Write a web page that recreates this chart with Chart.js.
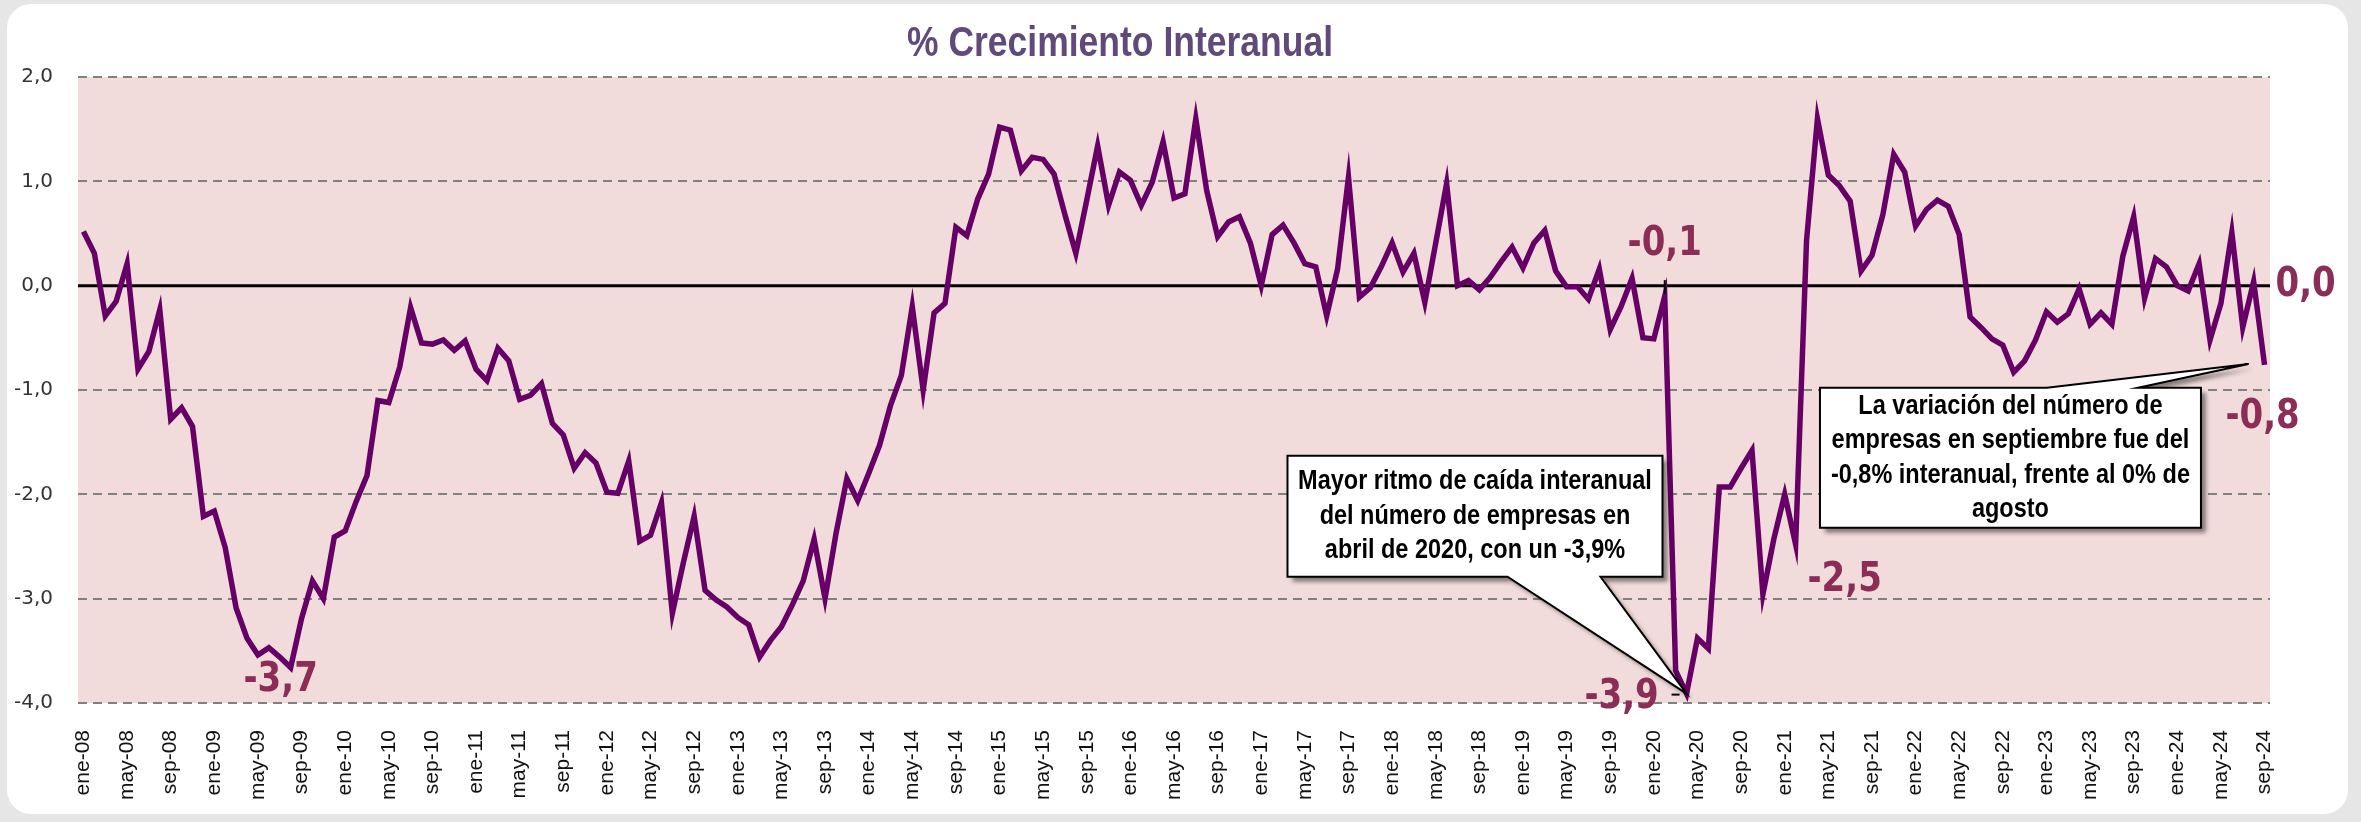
<!DOCTYPE html>
<html lang="es">
<head>
<meta charset="utf-8">
<title>% Crecimiento Interanual</title>
<script src="https://cdn.jsdelivr.net/npm/chart.js@4.4.1/dist/chart.umd.min.js"></script>
<style>
  html, body { margin: 0; padding: 0; background: #e6e6e6; }
  #panel { position: absolute; left: 7px; top: 4px; width: 2341px; height: 810px; background: #fff; border-radius: 24px; }
  #panel canvas { display: block; }
</style>
</head>
<body>
<div id="panel"><canvas id="crecimientoChart"></canvas></div>
<script>
const TITULO = '% Crecimiento Interanual';

// meses y años del eje X (ene-08 ... sep-24)
const MESES = ['ene', 'feb', 'mar', 'abr', 'may', 'jun', 'jul', 'ago', 'sep', 'oct', 'nov', 'dic'];
const ANIOS = ['08', '09', '10', '11', '12', '13', '14', '15', '16', '17', '18', '19', '20', '21', '22', '23', '24'];
const MESES_ULTIMO_ANIO = 9;

// % crecimiento interanual, una fila por año
const valores = [
    0.52, 0.31, -0.29, -0.15, 0.21, -0.80, -0.63, -0.23, -1.28, -1.17, -1.35, -2.21,
    -2.16, -2.51, -3.09, -3.38, -3.54, -3.47, -3.56, -3.66, -3.19, -2.83, -3.00, -2.41,
    -2.35, -2.07, -1.82, -1.10, -1.12, -0.78, -0.21, -0.55, -0.56, -0.52, -0.62, -0.53,
    -0.80, -0.91, -0.60, -0.72, -1.09, -1.05, -0.94, -1.32, -1.43, -1.75, -1.60, -1.70,
    -1.98, -1.99, -1.68, -2.45, -2.39, -2.08, -3.14, -2.66, -2.21, -2.92, -3.01, -3.08,
    -3.18, -3.25, -3.56, -3.40, -3.27, -3.06, -2.83, -2.43, -3.00, -2.38, -1.85, -2.06,
    -1.80, -1.53, -1.15, -0.86, -0.20, -1.00, -0.26, -0.17, 0.56, 0.48, 0.83, 1.07,
    1.52, 1.49, 1.10, 1.23, 1.21, 1.07, 0.68, 0.31, 0.82, 1.34, 0.77, 1.09,
    1.01, 0.77, 0.99, 1.38, 0.84, 0.88, 1.60, 0.91, 0.47, 0.61, 0.66, 0.41,
    0.00, 0.49, 0.58, 0.41, 0.21, 0.18, -0.29, 0.16, 1.04, -0.11, -0.02, 0.18,
    0.41, 0.13, 0.31, -0.16, 0.41, 0.98, 0.00, 0.05, -0.04, 0.08, 0.23, 0.37,
    0.17, 0.41, 0.53, 0.14, -0.01, -0.01, -0.13, 0.16, -0.42, -0.20, 0.07, -0.50,
    -0.51, -0.10, -3.69, -3.91, -3.38, -3.48, -1.93, -1.93, -1.75, -1.58, -2.96, -2.43,
    -2.00, -2.48, 0.43, 1.60, 1.06, 0.96, 0.81, 0.14, 0.29, 0.68, 1.26, 1.09,
    0.57, 0.73, 0.82, 0.76, 0.49, -0.30, -0.40, -0.51, -0.57, -0.83, -0.72, -0.52,
    -0.25, -0.35, -0.27, -0.03, -0.37, -0.26, -0.37, 0.28, 0.66, -0.12, 0.26, 0.18,
    0.00, -0.05, 0.21, -0.52, -0.17, 0.51, -0.40, 0.04, -0.76
];

// meses con etiqueta de valor
const mesesEtiquetados = [19, 145, 147, 157, 199, 200];

const textoCaida = ['Mayor ritmo de caída interanual', 'del número de empresas en', 'abril de 2020, con un -3,9%'];
const textoSeptiembre = ['La variación del número de', 'empresas en septiembre fue del', '-0,8% interanual, frente al 0% de', 'agosto'];

const etiquetasMes = [];
ANIOS.forEach((a, k) => {
    const n = (k === ANIOS.length - 1) ? MESES_ULTIMO_ANIO : 12;
    for (let m = 0; m < n; m++) etiquetasMes.push(`${MESES[m]}-${a}`);
});

const fmt = v => v.toFixed(1).replace('.', ',');

// fondo rosa del área y línea del cero
const fondoYCero = {
    id: 'fondoYCero',
    beforeDraw(chart) {
        const { ctx, chartArea: a } = chart;
        ctx.save();
        ctx.fillStyle = '#f2dcdb';
        ctx.fillRect(a.left, a.top, a.width, a.height);
        ctx.restore();
    },
    beforeDatasetsDraw(chart) {
        const { ctx, chartArea: a, scales: { y } } = chart;
        const y0 = y.getPixelForValue(0);
        ctx.save();
        ctx.strokeStyle = '#000';
        ctx.lineWidth = 3;
        ctx.beginPath();
        ctx.moveTo(a.left, y0);
        ctx.lineTo(a.right, y0);
        ctx.stroke();
        ctx.restore();
    }
};

// texto con estrechamiento horizontal (las fuentes del original salen comprimidas)
function texto(ctx, t, x, y, font, color, sx) {
    ctx.save();
    ctx.translate(x, y);
    ctx.scale(sx, 1);
    ctx.font = font;
    ctx.fillStyle = color;
    ctx.textAlign = 'center';
    ctx.textBaseline = 'middle';
    ctx.fillText(t, 0, 0);
    ctx.restore();
}

function linea(ctx, x1, y1, x2, y2) {
    ctx.save();
    ctx.strokeStyle = '#000';
    ctx.lineWidth = 2;
    ctx.beginPath();
    ctx.moveTo(x1, y1);
    ctx.lineTo(x2, y2);
    ctx.stroke();
    ctx.restore();
}

// caja con flecha (globo de Excel)
function globo(ctx, cx, cy, w, h, base, punta, lado, lineas) {
    const x = cx - w / 2, y = cy - h / 2;
    ctx.save();
    ctx.beginPath();
    ctx.moveTo(x, y);
    if (lado === 'top') {
        ctx.lineTo(x + base[0], y);
        ctx.lineTo(punta.x, punta.y);
        ctx.lineTo(x + base[1], y);
    }
    ctx.lineTo(x + w, y);
    ctx.lineTo(x + w, y + h);
    if (lado === 'bottom') {
        ctx.lineTo(x + base[1], y + h);
        ctx.lineTo(punta.x, punta.y);
        ctx.lineTo(x + base[0], y + h);
    }
    ctx.lineTo(x, y + h);
    ctx.closePath();
    ctx.shadowColor = 'rgba(0,0,0,0.45)';
    ctx.shadowBlur = 4;
    ctx.shadowOffsetX = 5;
    ctx.shadowOffsetY = 5;
    ctx.fillStyle = '#fff';
    ctx.fill();
    ctx.shadowColor = 'transparent';
    ctx.strokeStyle = '#000';
    ctx.lineWidth = 2;
    ctx.stroke();
    ctx.restore();

    const lh = 34.5;
    const y1 = cy - (lineas.length - 1) * lh / 2;
    lineas.forEach((l, k) => texto(ctx, l, cx, y1 + k * lh, 'bold 27px "Liberation Sans", Arial, sans-serif', '#000', 0.87));
}

const anotaciones = {
    id: 'anotaciones',
    afterDatasetsDraw(chart) {
        const { ctx, scales: { x, y } } = chart;
        const px = i => x.getPixelForValue(i);
        const py = v => y.getPixelForValue(v);

        // título
        texto(ctx, TITULO, 1113, 40, 'bold 42px "Liberation Sans", Arial, sans-serif', '#604A7B', 0.845);

        // guías cortas de las etiquetas (-0,1 y -3,9)
        linea(ctx, px(145), py(valores[145]) - 2, px(145), py(valores[145]) - 16);
        linea(ctx, px(147) - 15, py(valores[147]) + 1, px(147) - 7, py(valores[147]) + 1);

        // etiquetas de valor
        const desplaz = { 19: [-10, 13], 145: [0, -51], 147: [-65, 4], 157: [49, 36], 199: [52, 4], 200: [-2, 53] };
        mesesEtiquetados.forEach(i => {
            const [dx, dy] = desplaz[i];
            texto(ctx, fmt(valores[i]), px(i) + dx, py(valores[i]) + dy,
                'bold 40px "DejaVu Sans", Verdana, sans-serif', '#8c2d57', 0.85);
        });

        // globo abril 2020
        globo(ctx, px(127.6), py(-2.21), 375, 121, [220, 313],
            { x: px(147), y: py(valores[147]) }, 'bottom', textoCaida);

        // globo septiembre 2024
        globo(ctx, px(176.7), py(-1.65), 381, 140, [227, 318],
            { x: px(200) - 16, y: py(valores[200]) - 1 }, 'top', textoSeptiembre);
    }
};

// eslint-disable-next-line no-undef
new Chart(document.getElementById('crecimientoChart'), {
    type: 'line',
    data: {
        labels: etiquetasMes,
        datasets: [{
            label: TITULO,
            data: valores,
            borderColor: '#660066',
            borderWidth: 5.5,
            pointRadius: 0,
            tension: 0,
            fill: false
        }]
    },
    options: {
        responsive: true,
        maintainAspectRatio: false,
        animation: false,
        layout: { padding: { left: 7, right: 78, top: 73, bottom: 15 } },
        plugins: {
            legend: { display: false },
            tooltip: { enabled: false },
            title: { display: false }
        },
        scales: {
            x: {
                offset: true,
                grid: { display: false },
                border: { display: false },
                afterFit: s => { s.height = 96; },
                ticks: {
                    autoSkip: false,
                    maxRotation: 90,
                    minRotation: 90,
                    padding: 19,
                    color: '#111',
                    font: { family: '"Liberation Sans", Arial, sans-serif', size: 21 },
                    callback: (v, i) => (i % 4 === 0 ? etiquetasMes[i] : null)
                }
            },
            y: {
                min: -4,
                max: 2,
                afterFit: s => { s.width = 64; },
                ticks: {
                    stepSize: 1,
                    padding: 25,
                    color: '#333',
                    font: { family: '"DejaVu Sans", Verdana, sans-serif', size: 20 },
                    callback: v => fmt(v)
                },
                grid: { color: '#808080', lineWidth: 2, drawTicks: false },
                border: { display: false, dash: [9, 6] }
            }
        }
    },
    plugins: [fondoYCero, anotaciones]
});
</script>
</body>
</html>
